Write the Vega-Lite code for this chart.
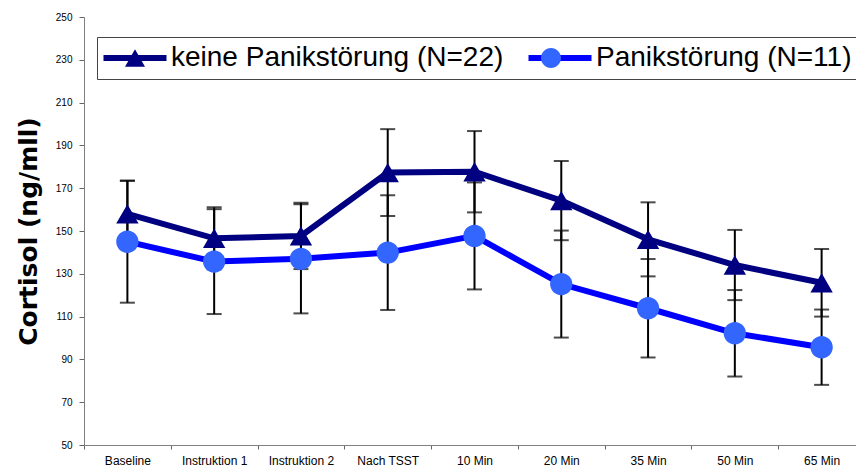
{
  "$schema": "https://vega.github.io/schema/vega-lite/v6.json",
  "width": 772,
  "height": 428,
  "autosize": {"type": "none"},
  "padding": {"left": 84, "top": 17, "right": 0, "bottom": 22},
  "background": "white",
  "config": {"view": {"stroke": null}, "font": "Liberation Sans"},
  "data": {
    "values": [
      {"gruppe": "keine Panikstörung (N=22)", "zeitpunkt": "Baseline", "cortisol": 158.0, "sd": 15.5},
      {"gruppe": "keine Panikstörung (N=22)", "zeitpunkt": "Instruktion 1", "cortisol": 146.6, "sd": 14.5},
      {"gruppe": "keine Panikstörung (N=22)", "zeitpunkt": "Instruktion 2", "cortisol": 147.7, "sd": 15.5},
      {"gruppe": "keine Panikstörung (N=22)", "zeitpunkt": "Nach TSST", "cortisol": 177.3, "sd": 20.3},
      {"gruppe": "keine Panikstörung (N=22)", "zeitpunkt": "10 Min", "cortisol": 177.7, "sd": 19.0},
      {"gruppe": "keine Panikstörung (N=22)", "zeitpunkt": "20 Min", "cortisol": 164.2, "sd": 18.5},
      {"gruppe": "keine Panikstörung (N=22)", "zeitpunkt": "35 Min", "cortisol": 146.1, "sd": 17.3},
      {"gruppe": "keine Panikstörung (N=22)", "zeitpunkt": "50 Min", "cortisol": 134.1, "sd": 16.4},
      {"gruppe": "keine Panikstörung (N=22)", "zeitpunkt": "65 Min", "cortisol": 125.8, "sd": 15.8},
      {"gruppe": "Panikstörung (N=11)", "zeitpunkt": "Baseline", "cortisol": 145.0, "sd": 28.5},
      {"gruppe": "Panikstörung (N=11)", "zeitpunkt": "Instruktion 1", "cortisol": 135.7, "sd": 24.5},
      {"gruppe": "Panikstörung (N=11)", "zeitpunkt": "Instruktion 2", "cortisol": 137.0, "sd": 25.5},
      {"gruppe": "Panikstörung (N=11)", "zeitpunkt": "Nach TSST", "cortisol": 139.9, "sd": 26.8},
      {"gruppe": "Panikstörung (N=11)", "zeitpunkt": "10 Min", "cortisol": 147.7, "sd": 25.0},
      {"gruppe": "Panikstörung (N=11)", "zeitpunkt": "20 Min", "cortisol": 125.2, "sd": 25.0},
      {"gruppe": "Panikstörung (N=11)", "zeitpunkt": "35 Min", "cortisol": 113.9, "sd": 23.0},
      {"gruppe": "Panikstörung (N=11)", "zeitpunkt": "50 Min", "cortisol": 102.2, "sd": 20.2},
      {"gruppe": "Panikstörung (N=11)", "zeitpunkt": "65 Min", "cortisol": 95.7, "sd": 17.6}
    ]
  },
  "encoding": {
    "x": {
      "field": "zeitpunkt",
      "type": "ordinal",
      "sort": ["Baseline", "Instruktion 1", "Instruktion 2", "Nach TSST", "10 Min", "20 Min", "35 Min", "50 Min", "65 Min"],
      "scale": {"type": "band", "paddingInner": 0, "paddingOuter": 0, "range": [0, 781]},
      "axis": {
        "title": null,
        "labelAngle": 0,
        "tickBand": "extent",
        "tickSize": 4,
        "tickColor": "#666666",
        "domainColor": "#808080",
        "labelFont": "Liberation Sans",
        "labelFontSize": 12,
        "labelColor": "black",
        "labelPadding": 6,
        "grid": false
      }
    },
    "y": {
      "field": "cortisol",
      "type": "quantitative",
      "scale": {"domain": [50, 250], "nice": false, "zero": false},
      "axis": {
        "title": "Cortisol (ng/mll)",
        "titleFont": "DejaVu Sans",
        "titleFontWeight": "bold",
        "titleFontSize": 25,
        "titleColor": "black",
        "titlePadding": 14,
        "values": [50, 70, 90, 110, 130, 150, 170, 190, 210, 230, 250],
        "tickSize": 5,
        "tickColor": "#666666",
        "domainColor": "#808080",
        "labelFont": "Liberation Sans",
        "labelFontSize": 10,
        "labelColor": "black",
        "labelPadding": 7,
        "grid": false
      }
    }
  },
  "layer": [
    {
      "mark": {
        "type": "errorbar",
        "ticks": {"size": 15, "thickness": 2, "color": "black"},
        "rule": {"strokeWidth": 2, "color": "black"}
      },
      "encoding": {"yError": {"field": "sd"}}
    },
    {
      "mark": {"type": "line", "strokeWidth": 6},
      "encoding": {
        "color": {
          "field": "gruppe",
          "type": "nominal",
          "scale": {"domain": ["keine Panikstörung (N=22)", "Panikstörung (N=11)"], "range": ["#000080", "#0000FF"]},
          "legend": {
            "title": null,
            "orient": "none",
            "legendX": 13,
            "legendY": 20,
            "direction": "horizontal",
            "padding": 7,
            "strokeColor": "#444444",
            "fillColor": "white",
            "symbolType": "M-3.15,0H3.15",
            "symbolSize": 400,
            "symbolStrokeWidth": 6,
            "symbolOffset": 17,
            "labelOffset": 22,
            "columnPadding": 12,
            "labelFont": "Liberation Sans",
            "labelFontSize": 28,
            "labelColor": "black",
            "labelLimit": 1000
          }
        }
      }
    },
    {
      "mark": {"type": "point", "filled": true, "size": 500, "opacity": 1, "strokeWidth": 0},
      "encoding": {
        "fill": {
          "field": "gruppe",
          "type": "nominal",
          "sort": "descending",
          "scale": {"range": ["#000080", "#3366FF"]},
          "legend": {
            "title": null,
            "orient": "none",
            "legendX": 13,
            "legendY": 20,
            "direction": "horizontal",
            "padding": 7,
            "symbolSize": 400,
            "symbolStrokeWidth": 0,
            "symbolOpacity": 1,
            "symbolOffset": 17,
            "labelOffset": 22,
            "columnPadding": 12,
            "labelFont": "Liberation Sans",
            "labelFontSize": 28,
            "labelOpacity": 0,
            "labelLimit": 1000
          }
        },
        "shape": {
          "field": "gruppe",
          "type": "nominal",
          "sort": "descending",
          "scale": {
            "range": [
              "M-3.45,0H3.45M0,-0.866L1,0.866L-1,0.866Z",
              "M-3.45,0H3.45M-1,0A1,1,0,1,1,1,0A1,1,0,1,1,-1,0Z"
            ]
          },
          "legend": {
            "title": null,
            "orient": "none",
            "legendX": 13,
            "legendY": 20,
            "direction": "horizontal",
            "padding": 7,
            "symbolSize": 400,
            "symbolStrokeWidth": 0,
            "symbolOpacity": 1,
            "symbolOffset": 17,
            "labelOffset": 22,
            "columnPadding": 12,
            "labelFont": "Liberation Sans",
            "labelFontSize": 28,
            "labelOpacity": 0,
            "labelLimit": 1000
          }
        }
      }
    }
  ]
}
